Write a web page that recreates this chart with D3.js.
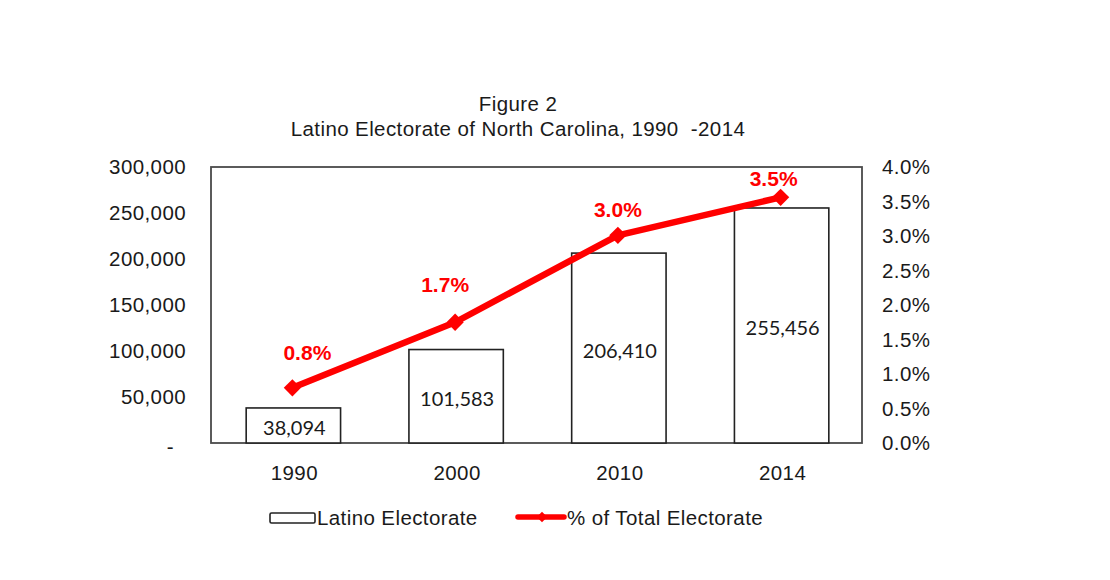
<!DOCTYPE html>
<html><head><meta charset="utf-8">
<script src="https://cdn.jsdelivr.net/npm/d3@7"></script>
<style>body{margin:0;background:#fff}</style>
</head><body>
<svg id="c" width="1110" height="580"></svg>
<script>
const years = ["1990","2000","2010","2014"];
const electorate = [38094, 101583, 206410, 255456];
const pctTotal = [0.80, 1.75, 3.01, 3.56];
const pctLabels = ["0.8%","1.7%","3.0%","3.5%"];
const leftTicks = [0,50000,100000,150000,200000,250000,300000];
const rightTicks = [0,0.5,1,1.5,2,2.5,3,3.5,4];

const svg = d3.select("#c");
const m = {l:211, r:862, t:167, b:443};
const xc = d3.scaleBand().domain(years).range([m.l, m.r]);
const barW = xc.bandwidth()*0.58;
const y = d3.scaleLinear().domain([0,300000]).range([m.b, m.t]);
const y2 = d3.scaleLinear().domain([0,4]).range([m.b, m.t]);
const font = "'Liberation Sans', Arial, sans-serif";
const fs = "20.5px", ls = "0.4px";
const style = sel => sel.style("font-family",font).style("font-size",fs).style("letter-spacing",ls).attr("fill","#1a1a1a");

// title
svg.append("text").attr("x",518).attr("y",111).attr("text-anchor","middle").call(style).text("Figure 2");
svg.append("text").attr("x",518).attr("y",136).attr("text-anchor","middle").call(style)
  .text("Latino Electorate of North Carolina, 1990  -2014").style("white-space","pre").attr("xml:space","preserve");

// frame
svg.append("rect").attr("x",m.l).attr("y",m.t).attr("width",m.r-m.l).attr("height",m.b-m.t)
  .attr("fill","none").attr("stroke","#4a4a4a").attr("stroke-width",1.8);

// left axis
const la = svg.append("g").attr("transform",`translate(${m.l},0)`)
  .call(d3.axisLeft(y).tickValues(leftTicks).tickSize(0).tickPadding(25)
    .tickFormat(d => d===0 ? "-" : d3.format(",")(d)));
la.select(".domain").remove();
la.selectAll("text").call(style);
la.selectAll(".tick").filter(d=>d===0).select("text").attr("dx","-12").attr("dy","0.5em");

// right axis
const ra = svg.append("g").attr("transform",`translate(${m.r},0)`)
  .call(d3.axisRight(y2).tickValues(rightTicks).tickSize(0).tickPadding(20)
    .tickFormat(d => d3.format(".1f")(d)+"%"));
ra.select(".domain").remove();
ra.selectAll("text").call(style);

// x axis
const xa = svg.append("g").attr("transform",`translate(0,${m.b})`)
  .call(d3.axisBottom(xc).tickSize(0).tickPadding(22));
xa.select(".domain").remove();
xa.selectAll("text").call(style).attr("dx","2");

// bars
svg.selectAll("rect.bar").data(electorate).join("rect").attr("class","bar")
  .attr("x",(d,i)=>xc(years[i])+xc.bandwidth()/2-barW/2+1).attr("width",barW)
  .attr("y",d=>y(d)).attr("height",d=>m.b-y(d))
  .attr("fill","#fff").attr("stroke","#222").attr("stroke-width",1.6);

// bar labels
svg.selectAll("text.bl").data(electorate).join("text").attr("class","bl")
  .attr("x",(d,i)=>xc(years[i])+xc.bandwidth()/2+2)
  .attr("y",d=>(y(d)+m.b)/2+10)
  .attr("text-anchor","middle").style("font-family","Lato, 'Open Sans', sans-serif")
  .style("font-size","20px").attr("fill","#1a1a1a").text(d=>d3.format(",")(d));

// line
const cx = i => xc(years[i]) + xc.bandwidth()/2;
svg.append("path").datum(pctTotal)
  .attr("d", d3.line().x((d,i)=>cx(i)).y(d=>y2(d)))
  .attr("fill","none").attr("stroke","#ff0000").attr("stroke-width",6.5).attr("stroke-linejoin","round");
svg.selectAll("path.mk").data(pctTotal).join("path").attr("class","mk")
  .attr("transform",(d,i)=>`translate(${cx(i)},${y2(d)})`)
  .attr("d",d3.symbol(d3.symbolDiamond2,190)).attr("fill","#ff0000");

const labelDx = [15,-10,0,-7];
const labelDy = [-28,-30,-18,-11];
svg.selectAll("text.pl").data(pctLabels).join("text").attr("class","pl")
  .attr("x",(d,i)=>cx(i)+labelDx[i]).attr("y",(d,i)=>y2(pctTotal[i])+labelDy[i])
  .attr("text-anchor","middle").style("font-family",font).style("font-weight","bold")
  .style("font-size","21px").attr("fill","#ff0000").text(d=>d);

// legend
svg.append("rect").attr("x",270).attr("y",513).attr("width",45).attr("height",10)
  .attr("fill","#fff").attr("stroke","#222").attr("stroke-width",1.6).attr("rx",1.5);
svg.append("text").attr("x",317).attr("y",525).call(style).text("Latino Electorate");
svg.append("line").attr("x1",518).attr("x2",564).attr("y1",517).attr("y2",517)
  .attr("stroke","#ff0000").attr("stroke-width",5.5).attr("stroke-linecap","round");
svg.append("path").attr("transform","translate(542,517)").attr("d",d3.symbol(d3.symbolDiamond2,70)).attr("fill","#ff0000");
svg.append("text").attr("x",567).attr("y",525).call(style).text("% of Total Electorate");
</script>
</body></html>
